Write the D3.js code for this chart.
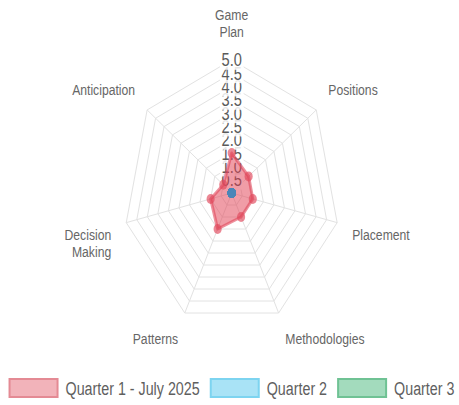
<!DOCTYPE html>
<html><head><meta charset="utf-8">
<script src="https://cdn.jsdelivr.net/npm/d3@7"></script>
<style>html,body{margin:0;padding:0;background:#fff;} svg{display:block;}</style>
</head><body>
<svg id="chart" width="459" height="405"></svg>
<script>
// ---- data ----
const categories = ["Game Plan","Positions","Placement","Methodologies","Patterns","Decision Making","Anticipation"];
const categoryLines = [["Game","Plan"],["Positions"],["Placement"],["Methodologies"],["Patterns"],["Decision","Making"],["Anticipation"]];
const seriesNames = ["Quarter 1 - July 2025","Quarter 2","Quarter 3"];
const q1Values = [1.5, 1.0, 1.0, 1.0, 1.5, 1.0, 0.5];
const q2Values = [0, 0, 0, 0, 0, 0, 0];
const q3Values = [0, 0, 0, 0, 0, 0, 0];
const tickValues = [0.5, 1.0, 1.5, 2.0, 2.5, 3.0, 3.5, 4.0, 4.5, 5.0];
const tickLabels = ["0.5","1.0","1.5","2.0","2.5","3.0","3.5","4.0","4.5","5.0"];

// ---- layout ----
const cx = 231.7, cy = 193, R = 133.2, sx = 0.812;
const font = "'Liberation Sans', Arial, Helvetica, sans-serif";
const svg = d3.select("#chart");
const r = d3.scaleLinear().domain([0, 5]).range([0, R]);
const angle = d3.scaleLinear().domain([0, categories.length]).range([0, 2 * Math.PI]);
const pt = (i, v) => [cx + sx * r(v) * Math.sin(angle(i)), cy - r(v) * Math.cos(angle(i))];
const line = d3.line().curve(d3.curveLinearClosed);

// grid rings
const grid = svg.append("g");
tickValues.forEach(t => {
  grid.append("path").attr("d", line(categories.map((c, i) => pt(i, t))))
    .attr("fill", "none").attr("stroke", "#e2e2e2").attr("stroke-width", 1);
});
// spokes
categories.forEach((c, i) => {
  const p = pt(i, 5);
  grid.append("line").attr("x1", cx).attr("y1", cy).attr("x2", p[0]).attr("y2", p[1])
    .attr("stroke", "#e2e2e2").attr("stroke-width", 1);
});

// point labels
const pad = 19, lh = 17, plFs = 15;
categories.forEach((c, i) => {
  const a = angle(i);
  const s = Math.sin(a), co = Math.cos(a);
  const ax = cx + sx * (R + pad) * s, ay = cy - (R + pad) * co;
  const lines = categoryLines[i];
  const h = lines.length * lh;
  let anchor = Math.abs(s) < 0.01 ? "middle" : (s > 0 ? "start" : "end");
  let top = co > 0.01 ? ay - h : ay;
  const g = svg.append("g").attr("transform", `translate(${ax},${top}) scale(${sx},1)`);
  lines.forEach((l, k) => {
    g.append("text").attr("x", 0).attr("y", k * lh + lh / 2)
      .attr("text-anchor", anchor).attr("dominant-baseline", "central")
      .attr("font-family", font).attr("font-size", plFs).attr("fill", "#666").text(l);
  });
});

// tick labels with backdrop
const tFs = 18;
tickValues.forEach((t, k) => {
  const y = cy - r(t);
  const g = svg.append("g").attr("transform", `translate(${cx},${y}) scale(${sx},1)`);
  const rect = g.append("rect");
  const txt = g.append("text").attr("text-anchor", "middle").attr("dominant-baseline", "central")
    .attr("font-family", font).attr("font-size", tFs).attr("fill", "#5a5a5a").text(tickLabels[k]);
  const w = txt.node().getComputedTextLength();
  rect.attr("x", -w / 2 - 2).attr("y", -tFs / 2 - 1).attr("width", w + 4).attr("height", tFs + 2)
    .attr("fill", "rgba(255,255,255,0.85)");
  txt.raise();
});

// datasets
const series = [
  {name: seriesNames[2], values: q3Values, fill: "rgba(25,135,84,0.4)", stroke: "rgba(25,135,84,0.6)", point: "#4a86b8"},
  {name: seriesNames[1], values: q2Values, fill: "rgba(13,202,240,0.4)", stroke: "rgba(13,202,240,0.6)", point: "#4a86b8"},
  {name: seriesNames[0], values: q1Values, fill: "rgba(225,60,80,0.5)", stroke: "rgba(225,70,90,0.6)", point: "rgba(225,70,90,0.65)"}
];
const dsG = svg.append("g");
series.forEach(sr => {
  const pts = sr.values.map((v, i) => pt(i, v));
  dsG.append("path").attr("d", line(pts)).attr("fill", sr.fill)
    .attr("stroke", sr.stroke).attr("stroke-width", 3).attr("stroke-linejoin", "round");
});
// points
[series[2], series[1], series[0]].forEach(sr => {
  sr.values.forEach((v, i) => {
    const p = pt(i, v);
    dsG.append("ellipse").attr("cx", p[0]).attr("cy", p[1]).attr("rx", 5 * sx).attr("ry", 5)
      .attr("fill", sr.point);
  });
});

// legend
const legendFill = ["#f2b3ba", "#a9e3f6", "#a3dbbd"];
const legendStroke = ["#e48a94", "#7dd4f0", "#6fc294"];
const lFs = 17.6, boxW = 50, boxH = 20, gapBT = 7, gapItem = 10, ly = 388;
const lg = svg.append("g");
const items = seriesNames.map((n, k) => {
  const tmp = lg.append("text").attr("font-family", font).attr("font-size", lFs).text(n);
  const w = tmp.node().getComputedTextLength() * sx;
  tmp.remove();
  return {name: n, w, k};
});
const total = d3.sum(items, d => boxW + gapBT + d.w) + gapItem * (items.length - 1);
let x = 231.5 - total / 2;
items.forEach(d => {
  lg.append("rect").attr("x", x + 1).attr("y", ly - boxH / 2 + 1).attr("width", boxW - 2).attr("height", boxH - 2)
    .attr("fill", legendFill[d.k]).attr("stroke", legendStroke[d.k]).attr("stroke-width", 2);
  lg.append("g").attr("transform", `translate(${x + boxW + gapBT},${ly}) scale(${sx},1)`)
    .append("text").attr("dominant-baseline", "central").attr("font-family", font)
    .attr("font-size", lFs).attr("fill", "#5f5f5f").text(d.name);
  x += boxW + gapBT + d.w + gapItem;
});
</script>
</body></html>
